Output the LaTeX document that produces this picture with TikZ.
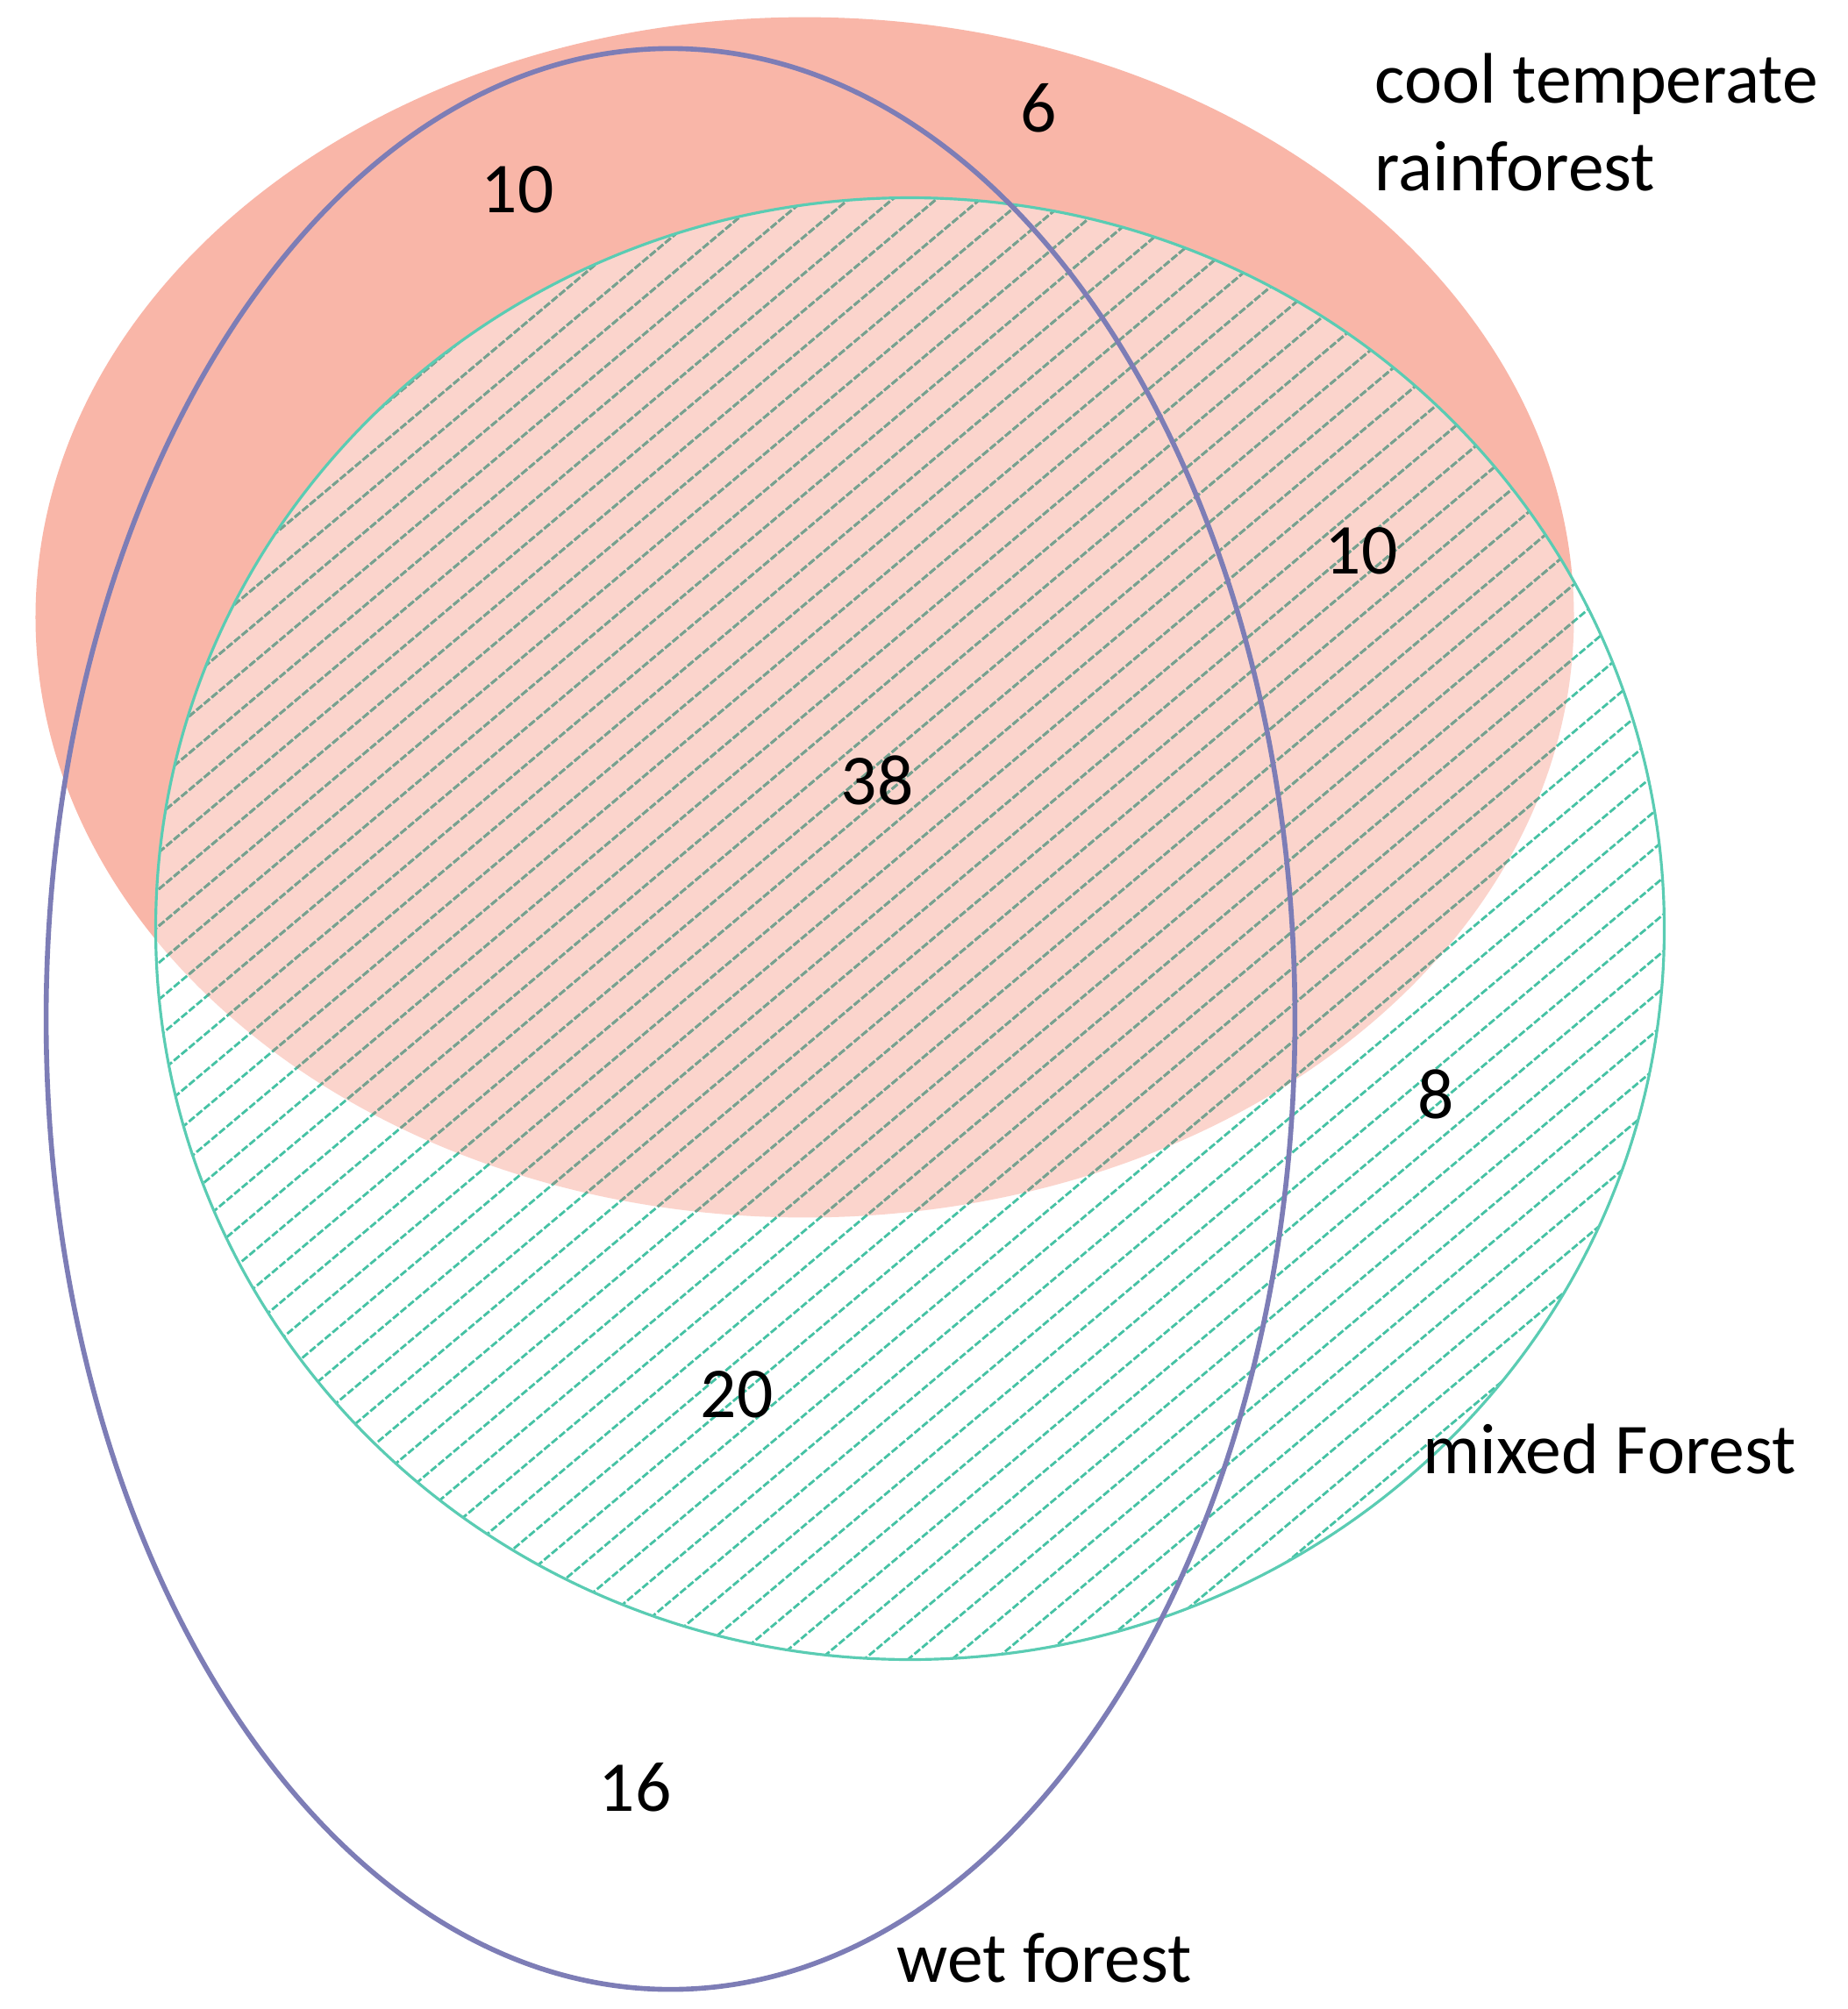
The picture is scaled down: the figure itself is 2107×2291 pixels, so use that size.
\documentclass[tikz,border=0pt]{standalone}
\usepackage{fontspec}
\setmainfont{Carlito}
\definecolor{redfill}{HTML}{F9B6A8}
\definecolor{tealline}{HTML}{45C2A4}
\definecolor{greyline}{HTML}{7A9F8E}
\definecolor{tealedge}{HTML}{5ACCB3}
\definecolor{blueedge}{HTML}{7D7DB6}
\tikzset{
  lbl/.style={inner sep=0pt, font=\fontsize{23.2}{28}\selectfont, text=black},
  hatchline/.style={line width=0.8pt, dash pattern=on 2.4pt off 0.8pt},
}
\begin{document}
\begin{tikzpicture}[x=0.01cm,y=-0.01cm]
\useasboundingbox (0,0) rectangle (2107,2291);
\fill[white] (0,0) rectangle (2107,2291);
% cool temperate rainforest
\fill[redfill] (917.5,704) ellipse [x radius=8.765cm, y radius=6.84cm];
% mixed forest
\fill[white, fill opacity=0.42] (1037.5,1059) ellipse [x radius=8.595cm, y radius=8.33cm];
\begin{scope}
  \clip (1037.5,1059) ellipse [x radius=8.595cm, y radius=8.33cm];
  \foreach \i in {0,...,95} {
    \draw[hatchline, draw=tealline] (0,{200+42*\i}) -- (2107,{200+42*\i-1770});
  }
  \clip (917.5,704) ellipse [x radius=8.765cm, y radius=6.84cm];
  \foreach \i in {0,...,95} {
    \draw[hatchline, draw=greyline] (0,{200+42*\i}) -- (2107,{200+42*\i-1770});
  }
\end{scope}
\draw[tealedge, line width=0.9pt] (1037.5,1059) ellipse [x radius=8.595cm, y radius=8.33cm];
% wet forest
\draw[blueedge, line width=1.6pt] (764.5,1162) ellipse [x radius=7.115cm, y radius=11.06cm];
% labels
\node[lbl, anchor=base] (n10a) at (590,242) {10};
\node[lbl, anchor=base] (n6) at (1184,150) {6};
\node[lbl, anchor=base] (n10b) at (1552,654) {10};
\node[lbl, anchor=base] (n38) at (1000,917) {38};
\node[lbl, anchor=base] (n8) at (1637,1275) {8};
\node[lbl, anchor=base] (n20) at (840,1616) {20};
\node[lbl, anchor=base] (n16) at (724,2065) {16};
\node[lbl, anchor=base west] (ctr1) at (1567,118) {cool temperate};
\node[lbl, anchor=base west] (ctr2) at (1567,218) {rainforest};
\node[lbl, anchor=base west] (mf) at (1622,1680) {mixed Forest};
\node[lbl, anchor=base west] (wf) at (1022,2260) {wet forest};
\end{tikzpicture}
\end{document}
